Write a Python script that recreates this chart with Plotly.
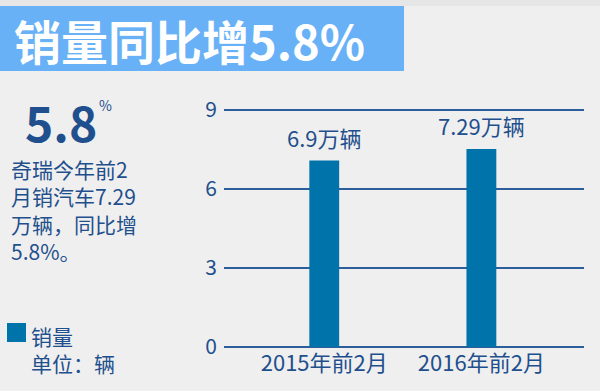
import plotly.graph_objects as go

categories = ["2015年前2月", "2016年前2月"]
bar_heights = [7.08, 7.52]
bar_labels = ["6.9万辆", "7.29万辆"]
y_ticks = [0, 3, 6, 9]
title_text = "销量同比增5.8%"
big_number = "5.8"
paragraph = ["奇瑞今年前2", "月销汽车7.29", "万辆，同比增", "5.8%。"]
legend_name = "销量"
unit_text = "单位：辆"

W, H = 600, 391
L, R, T, B = 224, 16, 109, 43
PW, PH = W - L - R, H - T - B

def px(x):
    return (x - L) / PW

def py(y):
    return (H - B - y) / PH

FONT = "Noto Sans CJK SC, Microsoft YaHei, sans-serif"
DARK = "#1f4f8d"
BAR = "#0073aa"

xs = [0, 1]
fig = go.Figure()
fig.add_trace(go.Bar(x=xs, y=bar_heights, width=0.19, marker=dict(color=BAR, line=dict(width=0)),
                     name=legend_name, showlegend=False, hoverinfo="skip"))

annotations = []
for x, v, t in zip(xs, bar_heights, bar_labels):
    annotations.append(dict(x=x, y=v, xref="x", yref="y", text=t, showarrow=False,
                            yanchor="bottom", xanchor="center", yshift=6,
                            font=dict(family=FONT, size=22, color=DARK)))

annotations.append(dict(x=px(12), y=py(39), xref="paper", yref="paper", text="<b>" + title_text + "</b>",
                        showarrow=False, xanchor="left", yanchor="middle",
                        font=dict(family=FONT, size=47, color="white")))
annotations.append(dict(x=px(24), y=py(121), xref="paper", yref="paper", text="<b>" + big_number + "</b>",
                        showarrow=False, xanchor="left", yanchor="middle", borderpad=0,
                        font=dict(family=FONT, size=48, color=DARK)))
annotations.append(dict(x=px(98), y=py(105), xref="paper", yref="paper", text="%",
                        showarrow=False, xanchor="left", yanchor="middle", borderpad=0,
                        font=dict(family=FONT, size=14, color=DARK)))
annotations.append(dict(x=px(10), y=py(153), xref="paper", yref="paper", text="<br>".join(paragraph),
                        showarrow=False, xanchor="left", yanchor="top", align="left", borderpad=0,
                        font=dict(family=FONT, size=21, color=DARK)))
annotations.append(dict(x=px(30), y=py(320), xref="paper", yref="paper",
                        text=legend_name + "<br>" + unit_text,
                        showarrow=False, xanchor="left", yanchor="top", align="left", borderpad=0,
                        font=dict(family=FONT, size=21, color=DARK)))

shapes = [
    dict(type="rect", xref="paper", yref="paper", x0=px(0), x1=px(404), y0=py(71), y1=py(6),
         fillcolor="#69b1f7", line=dict(width=0), layer="below"),
    dict(type="rect", xref="paper", yref="paper", x0=px(0), x1=px(600), y0=py(6), y1=py(0),
         fillcolor="#e6e6e6", line=dict(width=0), layer="below"),
    dict(type="rect", xref="paper", yref="paper", x0=px(7), x1=px(26), y0=py(342), y1=py(323),
         fillcolor=BAR, line=dict(width=0)),
]

fig.update_layout(
    width=W, height=H,
    margin=dict(l=L, r=R, t=T, b=B, pad=0),
    paper_bgcolor="#efefef", plot_bgcolor="#efefef",
    showlegend=False,
    annotations=annotations,
    shapes=shapes,
    xaxis=dict(range=[-0.638, 1.653], tickvals=xs, ticktext=categories, showgrid=False,
               zeroline=False, showline=False, ticks="",
               tickfont=dict(family=FONT, size=22, color=DARK)),
    yaxis=dict(range=[-0.04, 9.04], tickvals=y_ticks, showgrid=True, gridcolor="#2c5e9c", gridwidth=2,
               zeroline=False, showline=False, ticks="", ticklabelstandoff=6,
               tickfont=dict(family=FONT, size=21, color=DARK)),
)

fig.write_html("out.html")
